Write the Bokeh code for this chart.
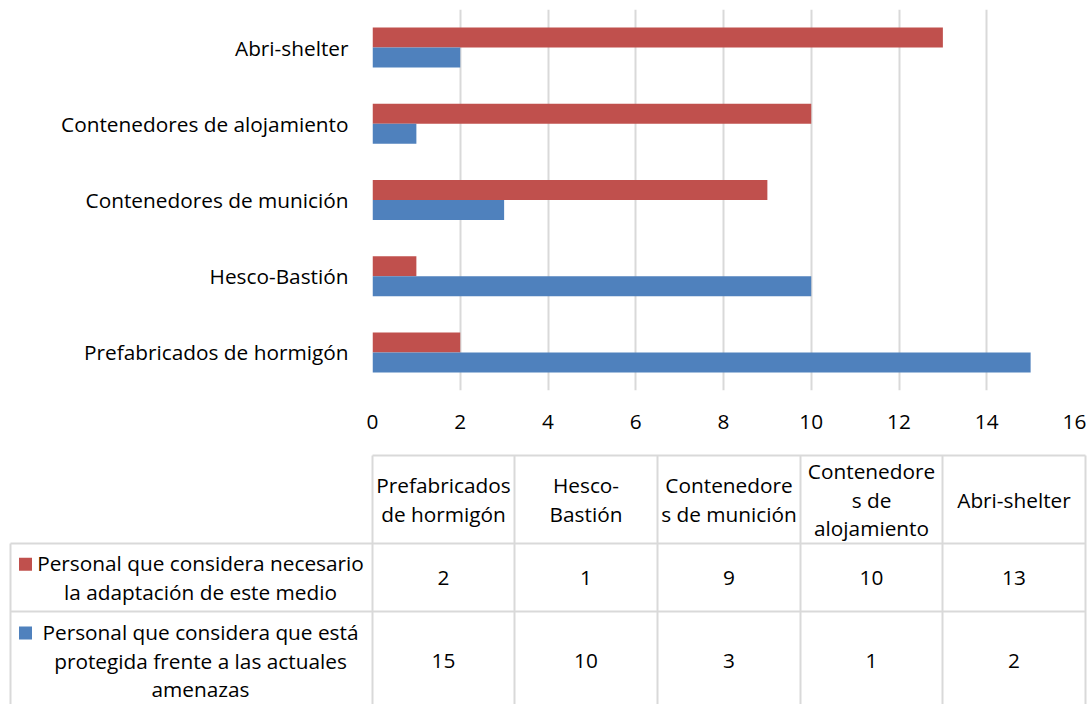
from bokeh.plotting import figure
from bokeh.models import Range1d, FactorRange, ColumnDataSource, FixedTicker
from bokeh.transform import dodge
from bokeh.core.properties import value
from bokeh.embed import file_html
from bokeh.resources import INLINE

# ---------------- data ----------------
categories = ["Prefabricados de hormigón", "Hesco-Bastión", "Contenedores de munición",
              "Contenedores de alojamiento", "Abri-shelter"]
necesario = [2, 1, 9, 10, 13]
protegida = [15, 10, 3, 1, 2]
series_names = ["Personal que considera necesario\nla adaptación de este medio",
                "Personal que considera que está\nprotegida frente a las actuales\namenazas"]
table_headers = ["Prefabricados\nde hormigón", "Hesco-\nBastión", "Contenedore\ns de munición",
                 "Contenedore\ns de\nalojamiento", "Abri-shelter"]
x_ticks = [0, 2, 4, 6, 8, 10, 12, 14, 16]

# ---------------- style ----------------
RED = "#C0504D"
BLUE = "#4F81BD"
GRID = "#D9D9D9"
FONT = "Open Sans"
FS = "20.8px"
TXT = "#000000"

# ---------------- chart ----------------
src = ColumnDataSource(dict(cat=categories, nec=necesario, pro=protegida))
p = figure(width=1088, height=440,
           y_range=FactorRange(factors=categories, range_padding=0),
           x_range=Range1d(0, 16),
           output_backend="svg", toolbar_location=None,
           min_border_left=372, min_border_top=9, min_border_right=14, min_border_bottom=50)
p.hbar(y=dodge('cat', 0.131, range=p.y_range), right='nec', left=0, height=0.2625,
       fill_color=RED, line_color=None, source=src)
p.hbar(y=dodge('cat', -0.131, range=p.y_range), right='pro', left=0, height=0.2625,
       fill_color=BLUE, line_color=None, source=src)

p.outline_line_color = None
p.ygrid.visible = False
p.xgrid.ticker = FixedTicker(ticks=x_ticks)
p.xgrid.grid_line_color = GRID
p.xgrid.grid_line_width = 2
p.xaxis.ticker = FixedTicker(ticks=x_ticks)
for ax in (p.xaxis, p.yaxis):
    ax.axis_line_color = None
    ax.major_tick_line_color = None
    ax.minor_tick_line_color = None
    ax.major_tick_out = 0
    ax.major_tick_in = 0
    ax.major_label_text_font = FONT
    ax.major_label_text_font_size = FS
    ax.major_label_text_color = TXT
p.xaxis.major_label_standoff = 24
p.yaxis.major_label_standoff = 24

# ---------------- data table ----------------
t = figure(width=1088, height=264, x_range=Range1d(0, 1088), y_range=Range1d(704, 440),
           output_backend="svg", toolbar_location=None,
           x_axis_type=None, y_axis_type=None,
           min_border_left=0, min_border_right=0, min_border_top=0, min_border_bottom=0)
t.outline_line_color = None
t.grid.visible = False

col_edges = [372, 514, 657, 800, 942, 1085]
left_edge = 10
row_edges = [455, 543, 611, 720]
line_h = 28.5

# borders
sx0, sy0, sx1, sy1 = [], [], [], []
sx0 += [col_edges[0]]; sy0 += [row_edges[0]]; sx1 += [col_edges[-1]]; sy1 += [row_edges[0]]
for r in row_edges[1:3]:
    sx0.append(left_edge); sy0.append(r); sx1.append(col_edges[-1]); sy1.append(r)
for c in col_edges:
    sx0.append(c); sy0.append(row_edges[0]); sx1.append(c); sy1.append(row_edges[-1])
sx0.append(left_edge); sy0.append(row_edges[1]); sx1.append(left_edge); sy1.append(row_edges[-1])
t.segment(x0=sx0, y0=sy0, x1=sx1, y1=sy1, line_color=GRID, line_width=2)

tx, ty, tt = [], [], []
# header
hy = (row_edges[0] + row_edges[1]) / 2
for i, h in enumerate(table_headers):
    lines = h.split("\n")
    cx = (col_edges[i] + col_edges[i + 1]) / 2
    for j, ln in enumerate(lines):
        tx.append(cx); ty.append(hy + (j - (len(lines) - 1) / 2) * line_h); tt.append(ln)

# series rows
row_centers = [(row_edges[1] + row_edges[2]) / 2, 660]
sq_x, sq_y, sq_c = [], [], []
for k, (name, vals, colr) in enumerate(zip(series_names, [necesario, protegida], [RED, BLUE])):
    cy = row_centers[k]
    lines = name.split("\n")
    for j, ln in enumerate(lines):
        y = cy + (j - (len(lines) - 1) / 2) * line_h
        tx.append(200); ty.append(y); tt.append(ln)
        if j == 0:
            sq_x.append(25); sq_y.append(y + 1); sq_c.append(colr)
    for i, v in enumerate(vals):
        tx.append((col_edges[i] + col_edges[i + 1]) / 2); ty.append(cy); tt.append(str(v))

t.text(x=tx, y=ty, text=tt, text_align="center", text_baseline="middle",
       text_font=value(FONT), text_font_size=FS, text_color=TXT)
t.rect(x=sq_x, y=sq_y, width=13, height=13, fill_color=sq_c, line_color=None)

open("out.html", "w").write(file_html([p, t], INLINE))
